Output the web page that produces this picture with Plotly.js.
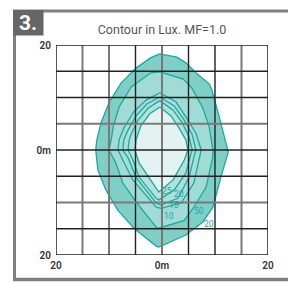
<!DOCTYPE html>
<html>
<head>
<meta charset="utf-8">
<script src="https://cdn.plot.ly/plotly-3.0.1.min.js"></script>
<style>html,body{margin:0;padding:0;background:#fff;}#chart{width:288px;height:282px;}</style>
</head>
<body>
<div id="chart"></div>
<script>
// ---- data (metres) ----
const tickVals = [-20, 0, 20];
const tickText = ['20', '0m', '20'];
const gridVals = [-15, -10, -5, 0, 5, 10, 15];

// contour polygons (outer -> inner)
const lvl2X = [-0.4, 2.8, 4.5, 6.4, 8.9, 9.4, 10.8, 12.1, 12.5, 11.1, 9.6, 7.7, 4.5, -0.6, -1.1, -5.3, -8.3, -10.6, -12.1, -12.5, -12.3, -11.5, -10.0, -7.7, -4.9, -2.1, -0.4];
const lvl2Y = [18.3, 17.7, 16.6, 14.7, 12.6, 11.5, 6.3, 1.5, -0.4, -5.2, -10.9, -13.7, -16.2, -18.5, -18.3, -14.9, -11.5, -7.6, -3.8, 0, 1.9, 5.2, 9.0, 12.8, 15.6, 17.6, 18.3];

const lvl5X = [-0.4, 4.0, 5.5, 7.7, 8.9, 9.6, 9.6, 8.3, 6.0, 4.2, -0.6, -1.1, -4.9, -7.4, -8.7, -10.0, -9.6, -9.2, -8.1, -5.8, -2.1, -0.4];
const lvl5Y = [14.9, 13.5, 12.0, 8.0, 4.4, 0, -1.3, -7.1, -10.9, -13.4, -14.9, -14.7, -9.9, -6.3, -2.5, 0, 1.9, 4.4, 8.2, 12.0, 14.7, 14.9];

const lvl10X = [-0.4, 2.6, 4.5, 6.4, 7.4, 7.0, 6.0, 3.6, -0.2, -1.1, -5.5, -7.4, -8.3, -8.1, -7.2, -5.3, -3.0, -0.4];
const lvl10Y = [10.9, 9.2, 6.3, 3.2, 0, -1.9, -6.3, -10.1, -11.1, -10.9, -5.7, -1.9, 0, 1.9, 4.2, 7.3, 9.5, 10.9];

const lvl15X = [-0.4, 2.3, 4.2, 5.7, 6.4, 6.2, 5.1, 3.0, -0.2, -1.1, -4.9, -6.4, -7.4, -7.2, -6.6, -4.9, -2.8, -0.4];
const lvl15Y = [10.1, 8.4, 5.7, 2.9, 0, -0.6, -5.2, -9.2, -10.5, -10.1, -5.2, -1.5, 0, 1.9, 3.4, 6.5, 8.8, 10.1];

const lvl20X = [-0.4, 2.1, 3.8, 5.1, 5.7, 5.5, 4.5, 2.3, -0.6, -1.1, -4.3, -5.5, -6.4, -6.2, -5.8, -4.5, -2.6, -0.4];
const lvl20Y = [9.4, 7.6, 5.2, 2.5, 0, -0.6, -4.4, -7.6, -9.5, -9.2, -5.2, -1.9, 0, 1.9, 3.1, 5.7, 8.0, 9.4];

const lvl25X = [-0.4, 1.7, 3.2, 4.5, 4.9, 4.2, 2.1, -0.6, -4.3, -5.1, -4.9, -4.0, -2.3, -0.4];
const lvl25Y = [8.2, 6.5, 4.2, 1.9, 0, -1.9, -5.7, -8.0, -2.5, 0, 1.9, 4.6, 6.9, 8.2];

const labelText = ['25', '20', '15', '10', '50', '20'];
const labelX = [0.9, 3.2, 2.3, 1.3, 7.0, 8.9];
const labelY = [-7.9, -8.3, -10.5, -12.6, -11.6, -14.1];

// ---- styles ----
const lineCol = '#1ba99f';
const fills = ['#7fcfc7', '#a0dbd5', '#a6ddd8', '#abdfda', '#b3e2dd', '#e3f3f2'];
const polys = [[lvl2X, lvl2Y], [lvl5X, lvl5Y], [lvl10X, lvl10Y], [lvl15X, lvl15Y], [lvl20X, lvl20Y], [lvl25X, lvl25Y]];

const traces = polys.map((p, i) => ({
  type: 'scatter', mode: 'lines', x: p[0], y: p[1],
  fill: 'toself', fillcolor: fills[i],
  line: {color: lineCol, width: 1.3},
  hoverinfo: 'skip', showlegend: false
}));

const W = 288, H = 282;
const mL = 56, mR = 20, mT = 45, mB = 27;
const pw = W - mL - mR, ph = H - mT - mB;
const px = v => (v - mL) / pw;
const py = v => (H - mB - v) / ph;

const shapes = [];
// frame decorations
shapes.push({type: 'line', xref: 'paper', yref: 'paper', x0: px(13), x1: px(288), y0: py(11), y1: py(11), line: {color: '#808080', width: 3}, layer: 'above'});
shapes.push({type: 'line', xref: 'paper', yref: 'paper', x0: px(14.5), x1: px(14.5), y0: py(10), y1: py(280), line: {color: '#808080', width: 3}, layer: 'above'});
shapes.push({type: 'line', xref: 'paper', yref: 'paper', x0: px(13), x1: px(288), y0: py(279.5), y1: py(279.5), line: {color: '#808080', width: 3.5}, layer: 'above'});
shapes.push({type: 'rect', xref: 'paper', yref: 'paper', x0: px(13), x1: px(43.5), y0: py(10), y1: py(35.5), fillcolor: '#666666', line: {width: 0}, layer: 'above'});

// grid
const grayX = [-15, -10, 0, 15];
const grayY = [5, -10];
gridVals.forEach(v => {
  const g = grayX.includes(v);
  shapes.push({type: 'line', xref: 'x', yref: 'y', x0: v, x1: v, y0: -20, y1: 20,
    line: {color: g ? '#7a7a7a' : '#222222', width: g ? 2 : 1.4}, layer: 'above'});
});
gridVals.forEach(v => {
  const g = grayY.includes(v);
  shapes.push({type: 'line', xref: 'x', yref: 'y', x0: -20, x1: 20, y0: v, y1: v,
    line: {color: g ? '#7a7a7a' : '#222222', width: g ? 2 : 1.4}, layer: 'above'});
});
shapes.push({type: 'rect', xref: 'x', yref: 'y', x0: -20, x1: 20, y0: -20, y1: 20,
  line: {color: '#222222', width: 1.5}, layer: 'above'});

const annotations = labelText.map((t, i) => ({
  x: labelX[i], y: labelY[i], xref: 'x', yref: 'y', text: t, showarrow: false,
  font: {family: 'Roboto, sans-serif', size: 8.5, color: lineCol}
}));
annotations.push({
  xref: 'paper', yref: 'paper', x: px(28), y: py(23), text: '3.', showarrow: false,
  xanchor: 'center', yanchor: 'middle',
  font: {family: 'Roboto, sans-serif', size: 21, color: '#ffffff', weight: 700}
});

const tickFont = {family: 'Roboto, sans-serif', size: 10, color: '#333333', weight: 600};

const layout = {
  width: W, height: H,
  margin: {l: mL, r: mR, t: mT, b: mB, pad: 0},
  paper_bgcolor: '#ffffff', plot_bgcolor: '#ffffff',
  showlegend: false,
  title: {text: 'Contour in Lux. MF=1.0', x: 0.5, xref: 'paper', xanchor: 'center',
    y: 1 - 30 / H, yanchor: 'middle',
    font: {family: 'Roboto, sans-serif', size: 12.5, color: '#555555'}},
  xaxis: {range: [-20, 20], tickvals: tickVals, ticktext: tickText, showgrid: false,
    zeroline: false, showline: false, ticks: '', tickfont: tickFont, fixedrange: true,
    ticklabelstandoff: 3},
  yaxis: {range: [-20, 20], tickvals: tickVals, ticktext: tickText, showgrid: false,
    zeroline: false, showline: false, ticks: '', tickfont: tickFont, fixedrange: true,
    ticklabelstandoff: 4},
  shapes: shapes,
  annotations: annotations
};

Plotly.newPlot('chart', traces, layout, {staticPlot: true, displayModeBar: false});
</script>
</body>
</html>
